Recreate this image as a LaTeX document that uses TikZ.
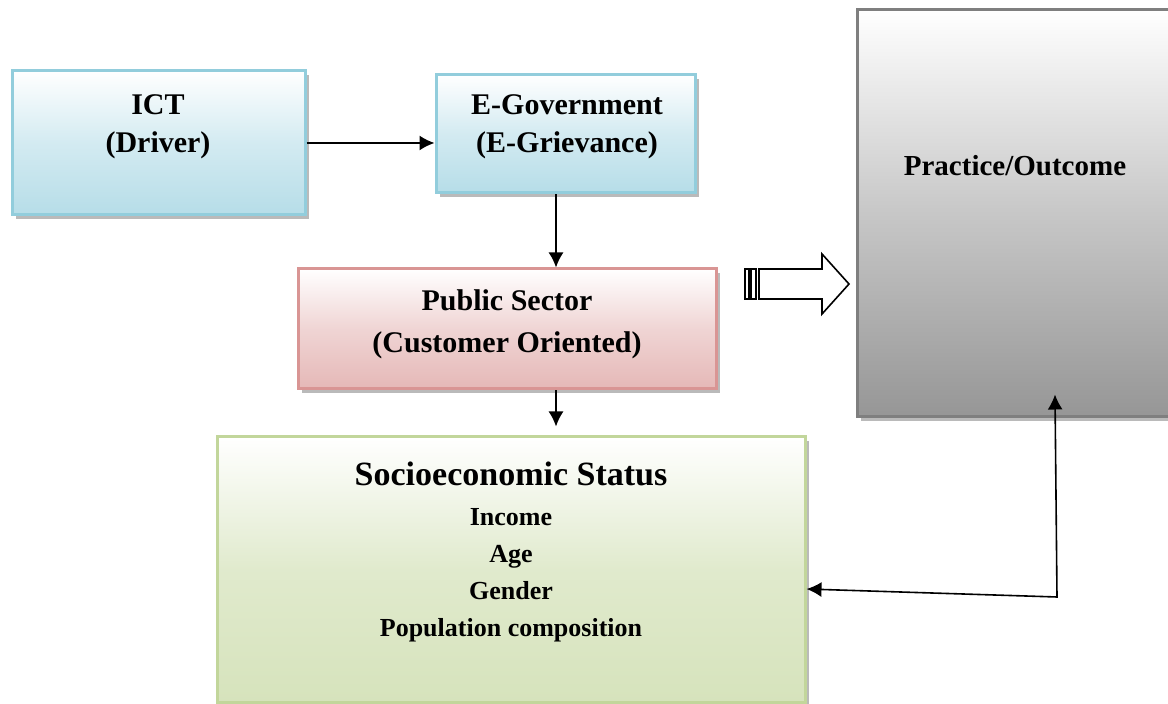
\documentclass[tikz,border=0pt]{standalone}
\usepackage{fontspec}
\setmainfont{Liberation Serif}
\usepackage{xcolor}
\usetikzlibrary{arrows.meta,positioning,shadows}

\definecolor{ictblue}{HTML}{B6DDE8}
\definecolor{ictblueline}{HTML}{92CDDC}
\definecolor{pubpink}{HTML}{E5B8B7}
\definecolor{pubpinkline}{HTML}{D99594}
\definecolor{sesgreen}{HTML}{D6E3BC}
\definecolor{sesgreenline}{HTML}{C2D69B}
\definecolor{outgray}{HTML}{969696}
\definecolor{outgrayline}{HTML}{7F7F7F}

\begin{document}
\begin{tikzpicture}[x=0.5pt, y=-0.5pt,
    box/.style={rectangle, line width=1.5pt, inner sep=0pt,
        drop shadow={shadow xshift=2pt, shadow yshift=-2pt, fill=black!45, opacity=0.6}},
    bluebox/.style={box, draw=ictblueline, top color=white, bottom color=ictblue, middle color=ictblue!60},
    pinkbox/.style={box, draw=pubpinkline, top color=white, bottom color=pubpink, middle color=pubpink!60},
    greenbox/.style={box, draw=sesgreenline, top color=white, bottom color=sesgreen, middle color=sesgreen!75},
    graybox/.style={box, draw=outgrayline, top color=white, bottom color=outgray, middle color=black!22},
    lbl/.style={font=\bfseries\fontsize{15}{19}\selectfont, align=center, inner sep=0pt},
    link/.style={-{Latex[length=7.5pt,width=7.5pt]}, line width=0.8pt}]
    \useasboundingbox (0,0) rectangle (1168,704);

    % Boxes
    \node[bluebox, minimum width=146.5pt, minimum height=72pt] (ict) at (158.5,143) {};
    \node[bluebox, minimum width=129.5pt, minimum height=59pt] (egov) at (565.5,134) {};
    \node[pinkbox, minimum width=209pt, minimum height=60pt] (public) at (507,329) {};
    \node[greenbox, minimum width=294pt, minimum height=133pt] (ses) at (511,570) {};
    \node[graybox, minimum width=159pt, minimum height=203.5pt] (practice) at (1016,213.5) {};

    % Box texts
    \node[lbl] (ict-txt) at (158,127) {ICT\\(Driver)};
    \node[lbl] (egov-txt) at (567,127) {E-Government\\(E-Grievance)};
    \node[lbl, font=\bfseries\fontsize{15}{21}\selectfont] (public-txt) at (507,324) {Public Sector\\(Customer Oriented)};
    \node[lbl, font=\bfseries\fontsize{14.5}{18}\selectfont] (practice-txt) at (1015,166) {Practice/Outcome};
    \node[lbl, anchor=north, font=\bfseries\fontsize{13}{18.5}\selectfont] (ses-txt) at (511,462)
        {{\fontsize{17}{21}\selectfont Socioeconomic Status}\\[1.5pt] Income\\Age\\Gender\\Population composition};

    % Connectors
    \coordinate (vline) at (556,0);
    \coordinate (corner) at (1057,597);
    \draw[link] (ict.east) -- (egov.west |- ict.east);
    \draw[link] (egov.south -| vline) -- (public.north -| vline);
    \draw[link, shorten >=4.5pt] (public.south -| vline) -- (ses.north -| vline);
    \draw[{Latex[length=7.5pt,width=7.5pt]}-{Latex[length=7.5pt,width=7.5pt]}, line width=0.8pt]
        ([yshift=-9.5pt]ses.east) -- (corner) -- ([xshift=19.5pt, yshift=12pt]practice.south);

    % Striped block arrow
    \draw[line width=0.8pt, fill=white] (759,269) -- (822,269) -- (822,254) -- (849,284)
        -- (822,314) -- (822,299) -- (759,299) -- cycle;
    \draw[line width=0.8pt] (745,269) rectangle (749,299);
    \draw[line width=0.8pt] (751,269) rectangle (756,299);
\end{tikzpicture}
\end{document}
